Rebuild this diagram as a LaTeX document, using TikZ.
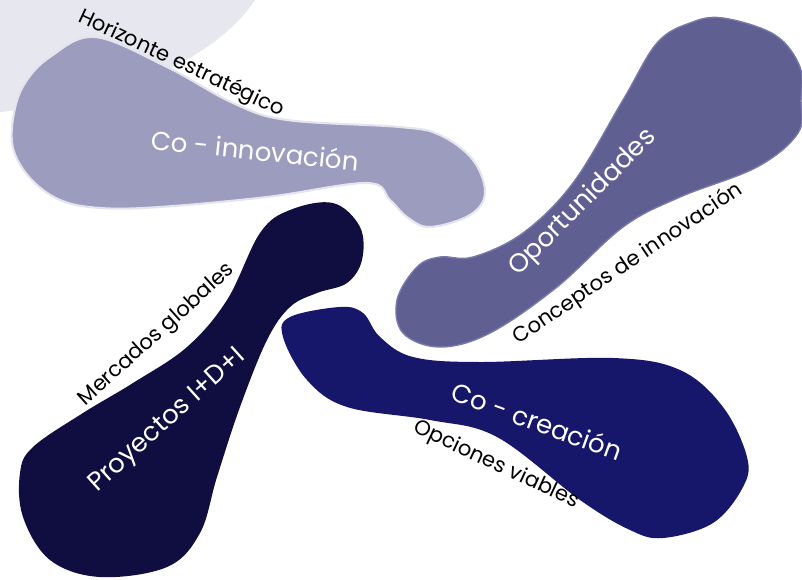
\documentclass[tikz,border=0pt]{standalone}
\usepackage{fontspec}
\setmainfont{Poppins}
\usepackage{xcolor}
\usepackage{tikz}
\usetikzlibrary{positioning}
\definecolor{mistgray}{RGB}{231, 231, 239}
\definecolor{lilac}{RGB}{156, 156, 191}
\definecolor{lilacedge}{RGB}{228, 228, 238}
\definecolor{dustyviolet}{RGB}{95, 95, 146}
\definecolor{violetedge}{RGB}{120, 120, 170}
\definecolor{nightblue}{RGB}{16, 14, 64}
\definecolor{royalnavy}{RGB}{22, 22, 107}

\begin{document}
\begin{tikzpicture}[x=0.02cm, y=-0.02cm,
    blobtext/.style={text=white, font=\fontsize{14.8}{16}\selectfont, inner sep=0pt},
    sidelabel/.style={text=black, font=\fontsize{12}{13}\selectfont, inner sep=0pt}]
    \useasboundingbox (0,0) rectangle (802,579);

    % Background arc
    \fill[mistgray] (0,0) -- (255,0) .. controls (215,60) and (120,100) .. (0,112) -- cycle;

    % Co-innovacion blob
    \draw[lilacedge, line width=1.2pt, fill=lilac] plot[smooth cycle, tension=0.6] coordinates {
        (95,37) (167,67) (233,103) (287,120) (400,127) (440,135) (473,160) (485,193)
        (470,215) (430,227) (407,217) (390,200) (367,183) (267,197) (160,207) (100,208)
        (60,200) (30,178) (13,148) (14,113) (25,83) (50,57)};

    % Oportunidades blob
    \draw[violetedge, line width=0.8pt, fill=dustyviolet] plot[smooth cycle, tension=0.6] coordinates {
        (723,18) (775,35) (800,67) (801,100) (798,133) (757,167) (680,197) (623,227)
        (557,287) (490,333) (440,347) (403,333) (397,300) (417,267) (440,257) (473,257)
        (523,233) (573,183) (623,100) (657,43) (690,23)};

    % Proyectos blob
    \fill[nightblue] plot[smooth cycle, tension=0.6] coordinates {
        (333,203) (360,227) (362,260) (347,283) (317,293) (290,307) (267,340) (240,407)
        (217,477) (200,533) (167,567) (100,577) (50,560) (23,517) (20,473) (33,447)
        (83,413) (133,383) (187,347) (227,300) (260,233) (290,210)};

    % Co-creacion blob
    \fill[royalnavy] plot[smooth cycle, tension=0.6] coordinates {
        (290,317) (340,307) (363,313) (380,337) (413,357) (480,362) (613,358) (680,370)
        (723,407) (747,457) (743,487) (713,523) (663,538) (630,530) (580,500) (497,437)
        (430,420) (347,407) (307,380) (283,337)};

    % Titles
    \node[blobtext, rotate=-6] (coinnov) at (255,150) {Co - innovación};
    \node[blobtext, rotate=45] (oport) at (583,203) {Oportunidades};
    \node[blobtext, rotate=42] (proy) at (168,421) {Proyectos I+D+I};
    \node[blobtext, rotate=-20] (cocrea) at (537,421) {Co - creación};

    % Side labels
    \node[sidelabel, rotate=-25] (horiz) at (181,64) {Horizonte estratégico};
    \node[sidelabel, rotate=34] (concep) at (628,264) {Conceptos de innovación};
    \node[sidelabel, rotate=42] (merc) at (157,335) {Mercados globales};
    \node[sidelabel, rotate=-25] (opc) at (496,465) {Opciones viables};
\end{tikzpicture}
\end{document}
